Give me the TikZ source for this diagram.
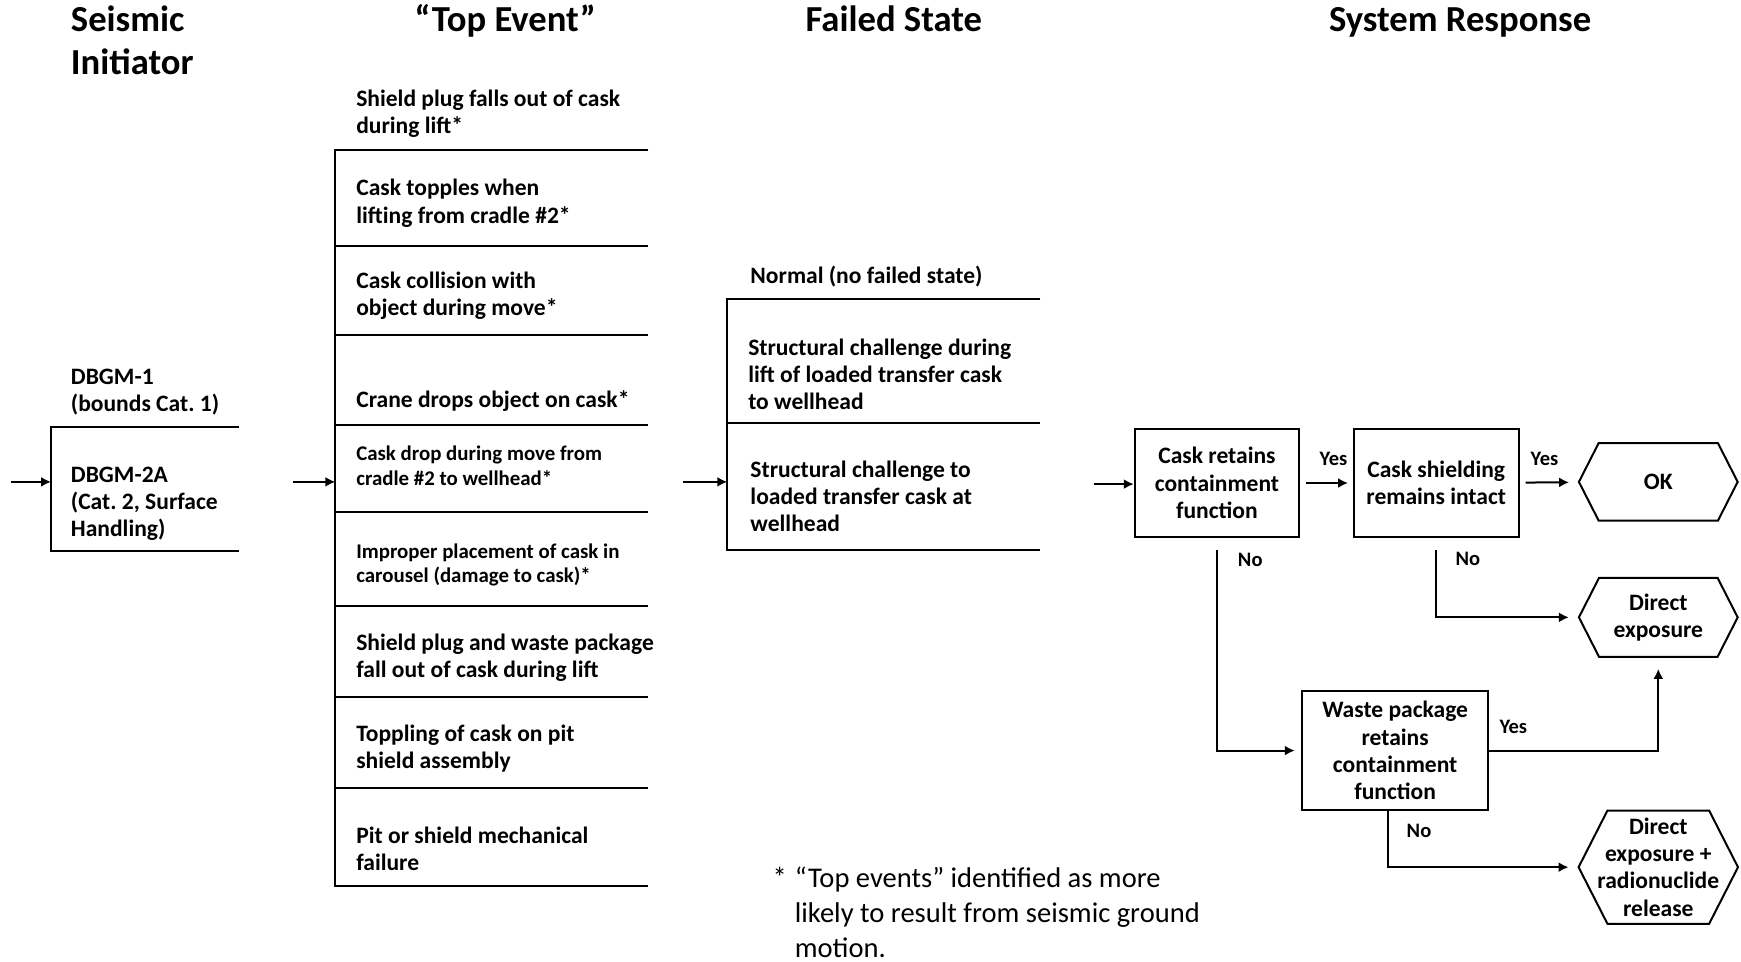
\documentclass[tikz,border=0pt]{standalone}
\usepackage{fontspec}
\setmainfont{Carlito}
\usetikzlibrary{arrows.meta,shapes.symbols}
\tikzset{seisflow/.style={x=1pt,y=-1pt,line width=1.8pt,font=\bfseries\fontsize{21.2}{24.5}\selectfont},
  hdr/.style={font=\bfseries\fontsize{33}{39}\selectfont,inner sep=0pt,align=left},
  evt/.style={anchor=base west,align=left,inner sep=0pt},
  evtsmall/.style={evt,font=\bfseries\fontsize{18.8}{22.4}\selectfont},
  qbox/.style={draw,align=center,inner sep=0pt,minimum width=148pt,minimum height=98pt},
  endstate/.style={draw,shape=signal,signal to=west and east,signal pointer angle=126,align=center,inner sep=0pt,minimum width=143pt},
  lbl/.style={font=\bfseries\fontsize{18.5}{22}\selectfont,inner sep=0pt},
  notetext/.style={evt,font=\fontsize{25.7}{31.5}\selectfont},
  arr/.style={-{Latex[length=9pt,width=9pt]}}}

\begin{document}
\begin{tikzpicture}[seisflow]
    \useasboundingbox (0,0) rectangle (1568,866);
    % column headers (base = last line)
    \node[hdr,anchor=base west] (hinit) at (63,67.5) {Seismic\\Initiator};
    \node[hdr,anchor=base] (htop) at (455,28.5) {“Top Event”};
    \node[hdr,anchor=base] (hfail) at (805,28.5) {Failed State};
    \node[hdr,anchor=base] (hresp) at (1315,28.5) {System Response};
    % seismic initiator
    \node[evt] (dbgm1) at (63,371) {DBGM-1\\(bounds Cat.~1)};
    \node[evt] (dbgm2) at (63,483.5) {DBGM-2A\\(Cat.~2, Surface\\Handling)};
    \draw (215,385) -| (46,496) -- (215,496);
    \coordinate (sstart) at (10,434);
    \coordinate (sin) at (46,434);
    \draw[arr] (sstart) -- (sin);
    % top events
    \draw (584,135) -- (302,135) -- (302,798) -- (584,798);
    \foreach \y in {222,302,383,461,546,628,710} \draw (302,\y) -- (584,\y);
    \node[evt] (te1) at (320,120) {Shield plug falls out of cask\\during lift*};
    \node[evt] (te2) at (320,201) {Cask topples when\\lifting from cradle \#2*};
    \node[evt] (te3) at (320,284) {Cask collision with\\object during move*};
    \node[evt] (te4) at (320,367) {Crane drops object on cask*};
    \node[evtsmall] (te5) at (320,437) {Cask drop during move from\\cradle \#2 to wellhead*};
    \node[evtsmall] (te6) at (320,525) {Improper placement of cask in\\carousel (damage to cask)*};
    \node[evt] (te7) at (320,610) {Shield plug and waste package\\fall out of cask during lift};
    \node[evt] (te8) at (320,692) {Toppling of cask on pit\\shield assembly};
    \node[evt] (te9) at (320,784) {Pit or shield mechanical\\failure};
    \coordinate (tstart) at (264,434);
    \coordinate (tin) at (302,434);
    \draw[arr] (tstart) -- (tin);
    % failed state
    \node[evt] (fs0) at (675,255) {Normal (no failed state)};
    \draw (937,269) -- (655,269) -- (655,495) -- (937,495);
    \draw (655,381) -- (937,381);
    \node[evt] (fs1) at (673,369) {Structural challenge during\\lift of loaded transfer cask\\to wellhead};
    \node[evt] (fs2) at (675,479) {Structural challenge to\\loaded transfer cask at\\wellhead};
    \coordinate (fstart) at (615,434);
    \coordinate (fin) at (655,434);
    \draw[arr] (fstart) -- (fin);
    % system response
    \coordinate (rstart) at (985,436);
    \node[qbox] (retain) at (1096,435) {Cask retains\\containment\\function};
    \node[qbox,minimum width=149pt] (shield) at (1293.5,435) {Cask shielding\\remains intact};
    \node[qbox,minimum width=167pt,minimum height=107pt] (waste) at (1256.5,676) {Waste package\\retains\\containment\\function};
    \node[endstate,minimum height=70pt] (ok) at (1493.5,434) {OK};
    \node[endstate,minimum height=71pt] (direct) at (1493.5,556) {Direct\\exposure};
    \node[endstate,minimum height=102pt,inner xsep=-9pt] (release) at (1493.5,781) {Direct\\exposure +\\radionuclide\\release};
    \draw[arr] (rstart) -- (rstart -| retain.west);
    \draw[arr,shorten <=5pt,shorten >=4pt] (retain) -- (shield);
    \draw[arr,shorten <=5pt,shorten >=8pt] (shield) -- (ok);
    \draw[arr,shorten >=6pt] ([yshift=-10pt]retain.south) |- (waste.west);
    \draw[arr,shorten >=8pt] ([yshift=-10pt]shield.south) |- (direct.west);
    \draw[arr,shorten >=10pt] (waste.east) -| (direct.south);
    \draw[arr,shorten >=8pt] ([xshift=-6pt]waste.south) |- (release.west);
    \node[lbl] (yes1) at (1201,413) {Yes};
    \node[lbl] (yes2) at (1391,413) {Yes};
    \node[lbl] (yes3) at (1363,655) {Yes};
    \node[lbl] (no1) at (1126,504) {No};
    \node[lbl] (no2) at (1322,503) {No};
    \node[lbl] (no3) at (1278,748) {No};
    % footnote
    \node[notetext] (star) at (695,799) {*};
    \node[notetext] (fnote) at (715,862) {“Top events” identified as more\\likely to result from seismic ground\\motion.};
\end{tikzpicture}
\end{document}
